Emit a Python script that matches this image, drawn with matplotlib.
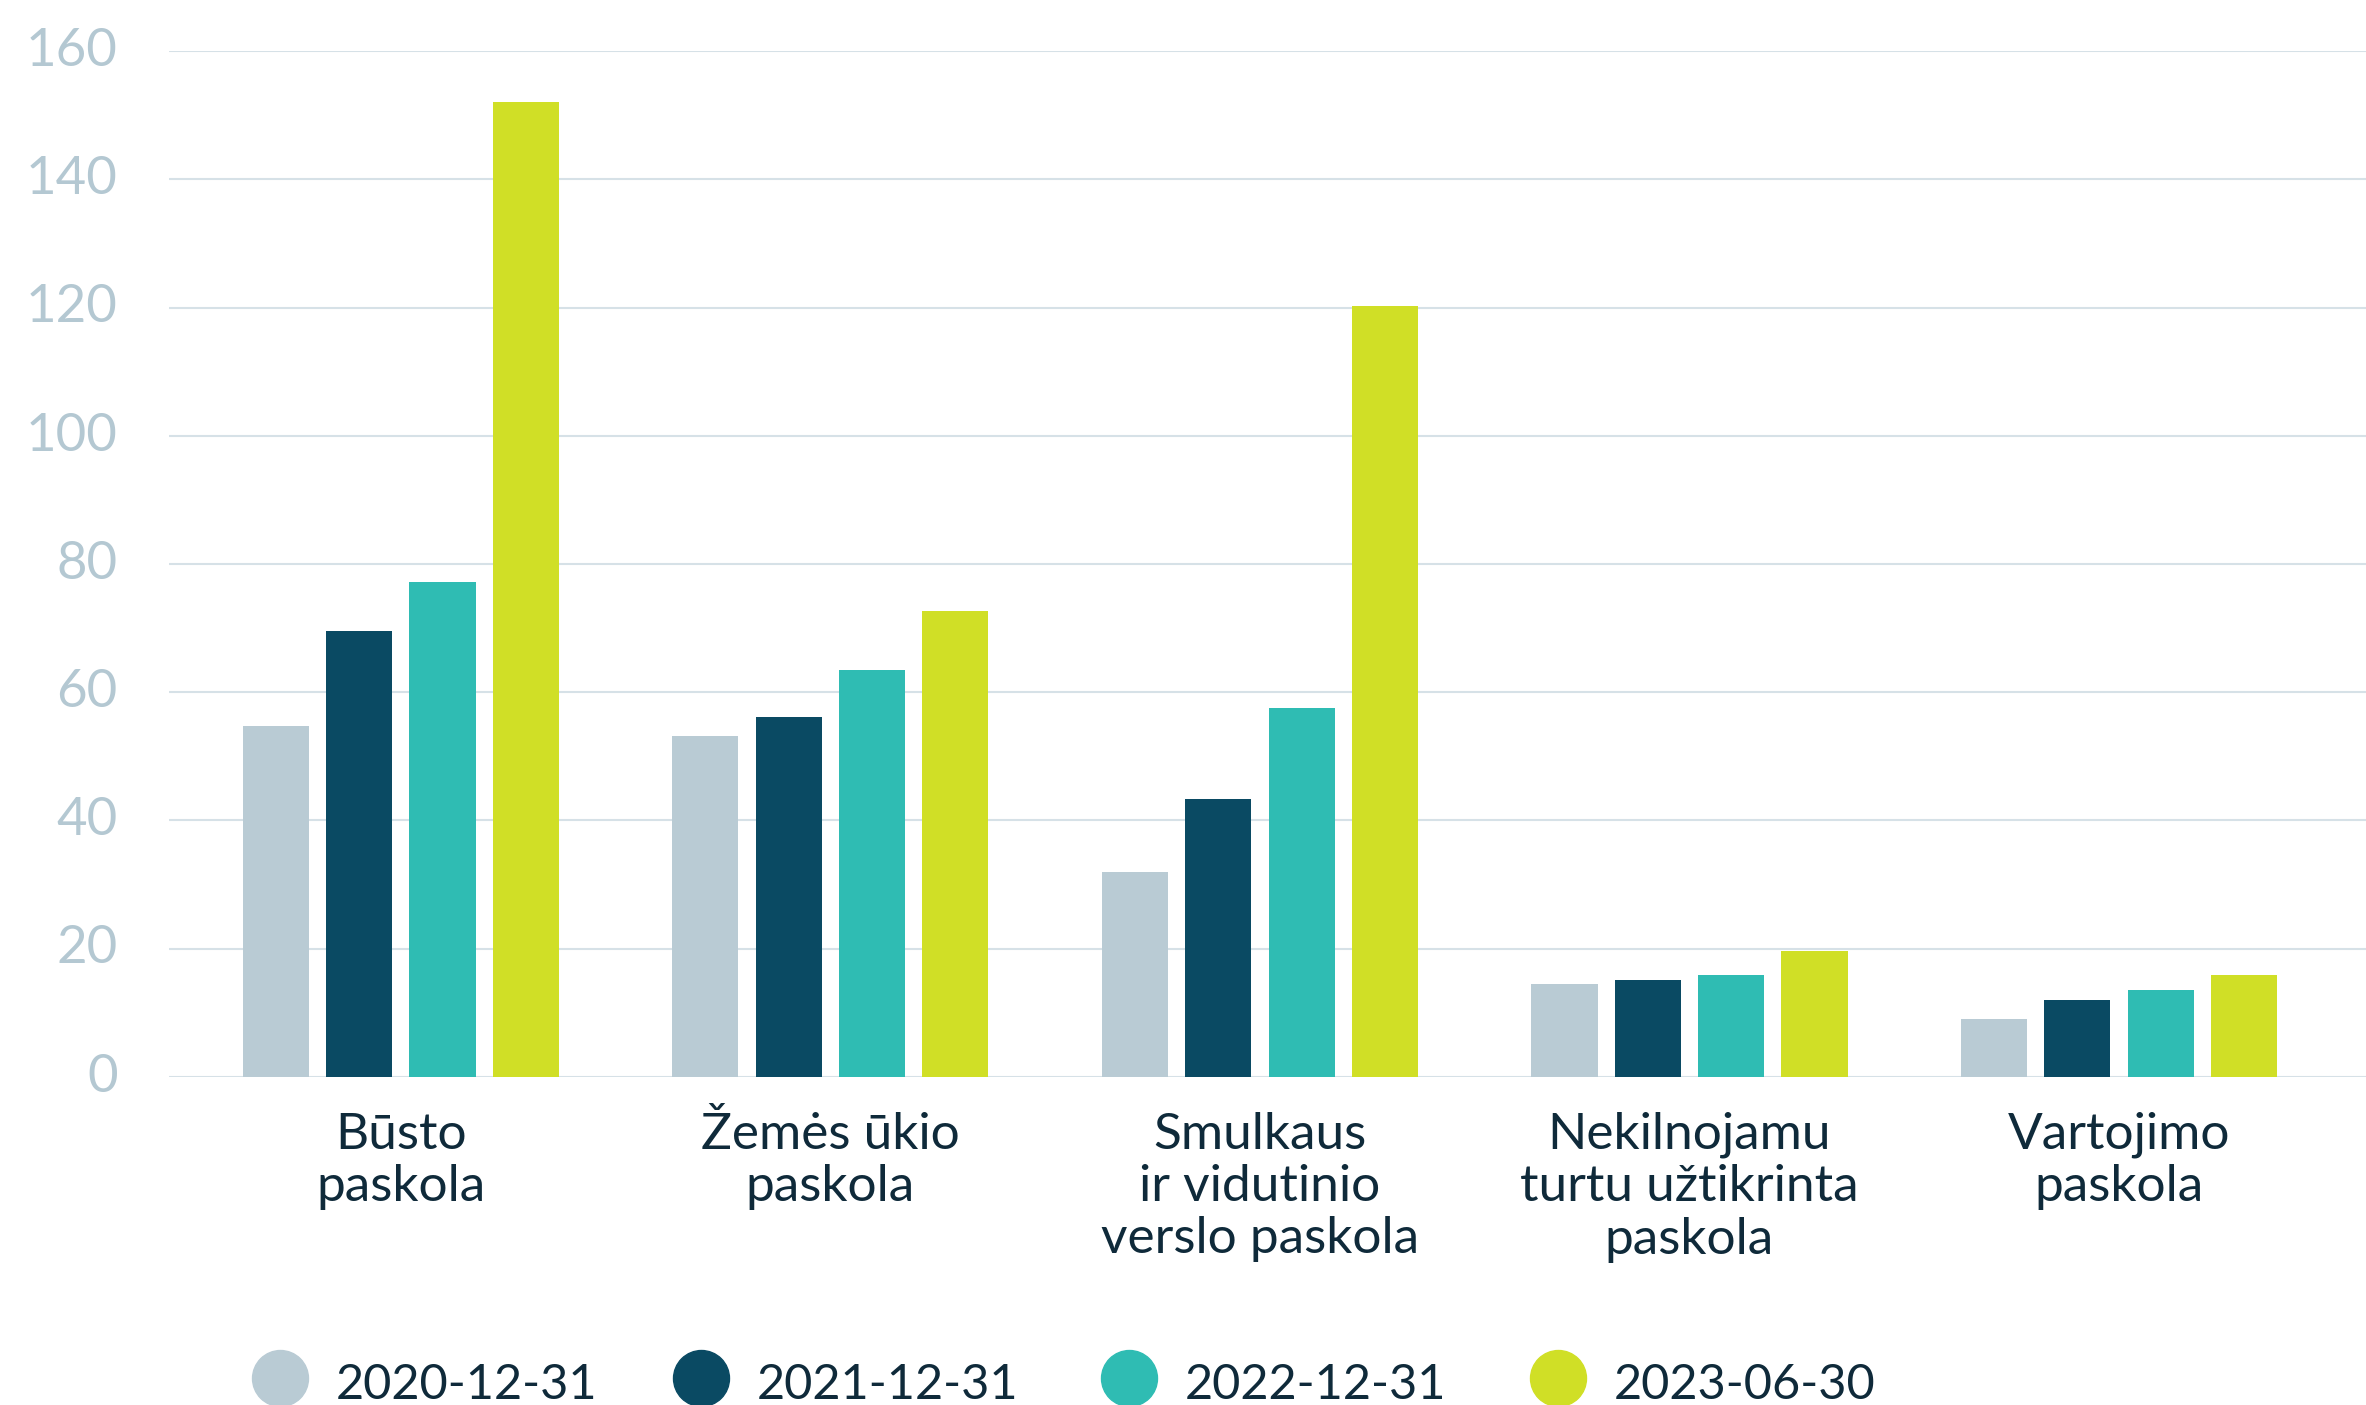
import numpy as np
import matplotlib
matplotlib.use("Agg")
import matplotlib.pyplot as plt
from matplotlib.lines import Line2D
from matplotlib.transforms import ScaledTranslation

# data
categories = ["Būsto\npaskola", "Žemės ūkio\npaskola", "Smulkaus\nir vidutinio\nverslo paskola",
              "Nekilnojamu\nturtu užtikrinta\npaskola", "Vartojimo\npaskola"]
series_names = ["2020-12-31", "2021-12-31", "2022-12-31", "2023-06-30"]
v2020 = [54.7, 53.2, 32.0, 14.5, 9.0]
v2021 = [69.6, 56.1, 43.4, 15.1, 12.0]
v2022 = [77.2, 63.5, 57.6, 15.9, 13.6]
v2023 = [152.1, 72.7, 120.3, 19.7, 15.9]
yticks = [0, 20, 40, 60, 80, 100, 120, 140, 160]

colors = ["#b9cbd4", "#0a4a63", "#2fbcb3", "#d0df26"]
tick_color = "#b4c8d2"
text_color = "#0f2a3a"
grid_color = "#d6e1e7"

plt.rcParams['font.family'] = ['Lato', 'DejaVu Sans']

fig = plt.figure(figsize=(23.66, 14.05), dpi=100)
ax = fig.add_axes([0.0714, 0.2336, 0.9286, 0.7300])

x = np.arange(len(categories))
pitch = 0.194
width = 0.154
all_vals = [v2020, v2021, v2022, v2023]
for i, vals in enumerate(all_vals):
    ax.bar(x + (i - 1.5) * pitch, vals, width=width, color=colors[i], zorder=3)

ax.set_xlim(-0.540, 4.575)
ax.set_ylim(0, 160)
ax.set_yticks(yticks)
ax.set_yticklabels([str(t) for t in yticks])
ax.grid(axis='y', color=grid_color, linewidth=1.5, zorder=0)
ax.set_axisbelow(True)
for s in ax.spines.values():
    s.set_visible(False)

ax.tick_params(axis='y', length=0, pad=37, labelsize=38, labelcolor=tick_color)
ax.tick_params(axis='x', length=0, pad=25, labelsize=37, labelcolor=text_color)
ax.set_xticks(x)
ax.set_xticklabels(categories, linespacing=1.17)

# y labels sit a touch above their gridlines
lift = ScaledTranslation(0, 3 / 72, fig.dpi_scale_trans)
for lab in ax.get_yticklabels():
    lab.set_transform(lab.get_transform() + lift)

# legend along the bottom edge
leg_x = [280, 701, 1129, 1558]
for i, name in enumerate(series_names):
    fx = leg_x[i] / 2366
    fig.add_artist(Line2D([fx], [0.0192], marker='o', markersize=40.3, color=colors[i],
                          linestyle='none', transform=fig.transFigure))
    fig.text(fx + 55.6 / 2366, 0.0043, name, fontsize=35, color=text_color,
             va='baseline', ha='left')

fig.savefig("out.png", dpi=100)
